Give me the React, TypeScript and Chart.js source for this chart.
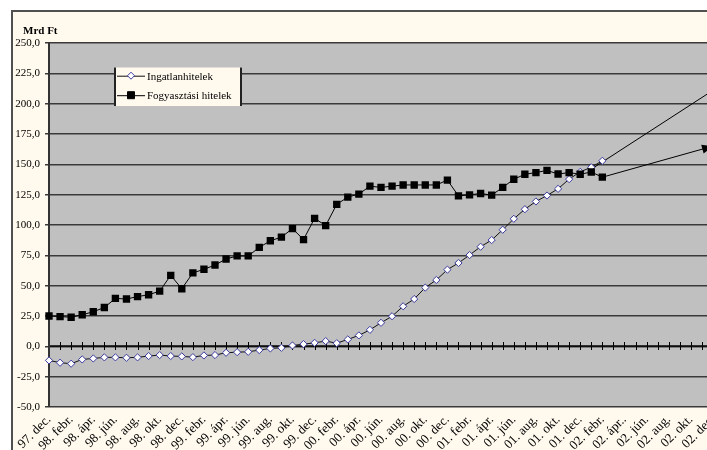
import React, { useEffect, useRef } from 'react';
import { Chart, registerables } from 'chart.js';

Chart.register(...registerables);

const categories = [
  '97. dec.',
  '98. jan.', '98. febr.', '98. márc.', '98. ápr.', '98. máj.', '98. jún.', '98. júl.', '98. aug.', '98. szept.', '98. okt.', '98. nov.', '98. dec.',
  '99. jan.', '99. febr.', '99. márc.', '99. ápr.', '99. máj.', '99. jún.', '99. júl.', '99. aug.', '99. szept.', '99. okt.', '99. nov.', '99. dec.',
  '00. jan.', '00. febr.', '00. márc.', '00. ápr.', '00. máj.', '00. jún.', '00. júl.', '00. aug.', '00. szept.', '00. okt.', '00. nov.', '00. dec.',
  '01. jan.', '01. febr.', '01. márc.', '01. ápr.', '01. máj.', '01. jún.', '01. júl.', '01. aug.', '01. szept.', '01. okt.', '01. nov.', '01. dec.',
  '02. jan.', '02. febr.', '02. márc.', '02. ápr..', '02. máj.', '02. jún.', '02. júl.', '02. aug.', '02. szept.', '02. okt.', '02. nov.', '02. dec.',
];

const ingatlanhitelek = [
  -11.6, -13.5, -14.3, -10.8, -10, -9.1, -9.1, -9.4, -9.1, -8, -7.2, -8, -8.3,
  -8.9, -7.5, -7.2, -5.3, -4.8, -4.5, -3.1, -1.7, -1.2, 0.7, 1.8, 2.9,
  4.3, 2.6, 5.7, 9, 13.6, 19.4, 24.8, 33, 39, 48.4, 54.7, 63.2,
  68.7, 75.2, 82.1, 87.6, 96.1, 105.1, 113, 119.4, 124.3, 129.8, 137.8, 143.8,
  147.6, 152.9,
];

const fogyasztasiHitelek = [
  25, 24.5, 24, 26, 28.5, 32, 39.5, 39, 41, 42.5, 45.5, 58.5, 47.5,
  60.5, 63.5, 67, 72, 74.5, 74.5, 81.5, 87, 90, 97, 88, 105.5,
  99.5, 117, 123, 125.5, 132, 131, 132, 133, 133, 133, 133, 137,
  124, 124.8, 126, 124.6, 131, 137.7, 141.8, 143.2, 145, 142, 143.2, 141.8,
  143.7, 139.4,
];

const ingatlanArrow = [
  { x: '02. jan.', y: 146 },
  { x: '02. dec.', y: 211 },
];

const fogyasztasiArrow = [
  { x: '02. febr.', y: 139.4 },
  { x: '02. dec.', y: 165 },
];

const seriesNames = ['Ingatlanhitelek', 'Fogyasztási hitelek'];
const unitLabel = 'Mrd Ft';

const W = 720;
const H = 470;
const FONT = '"Liberation Serif", "Times New Roman", serif';

const framePlugin = {
  id: 'frame',
  beforeDraw(chart: any) {
    const { ctx, chartArea: a } = chart;
    ctx.save();
    ctx.fillStyle = '#ffffff';
    ctx.fillRect(0, 0, W, H);
    ctx.fillStyle = '#FFF9EE';
    ctx.fillRect(11, 10, W, H);
    ctx.strokeStyle = '#505050';
    ctx.lineWidth = 2;
    ctx.strokeRect(12, 11, W + 20, H + 20);
    ctx.fillStyle = '#C0C0C0';
    ctx.fillRect(a.left, a.top, a.right - a.left, a.bottom - a.top);
    ctx.fillStyle = '#000';
    ctx.font = `bold 11px ${FONT}`;
    ctx.textAlign = 'left';
    ctx.textBaseline = 'middle';
    ctx.fillText(unitLabel, 23, 31);
    ctx.restore();
  },
};

const zeroAxisPlugin = {
  id: 'zeroAxis',
  beforeDatasetsDraw(chart: any) {
    const { ctx, chartArea: a, scales } = chart;
    const y0 = Math.round(scales.y.getPixelForValue(0));
    ctx.save();
    ctx.strokeStyle = '#000';
    ctx.lineWidth = 1.5;
    ctx.beginPath();
    ctx.moveTo(a.left, y0);
    ctx.lineTo(a.right, y0);
    ctx.stroke();
    ctx.lineWidth = 1;
    ctx.beginPath();
    for (let i = 0; i < categories.length; i++) {
      const x = Math.round(scales.x.getPixelForValue(i)) + 0.5;
      ctx.moveTo(x, y0 - 4);
      ctx.lineTo(x, y0 + 4);
    }
    ctx.stroke();
    ctx.strokeStyle = '#333';
    ctx.lineWidth = 2;
    ctx.beginPath();
    ctx.moveTo(a.left, a.top);
    ctx.lineTo(a.left, a.bottom);
    ctx.stroke();
    ctx.restore();
  },
};

const arrowHeadPlugin = {
  id: 'arrowHead',
  afterDatasetsDraw(chart: any) {
    const meta = chart.getDatasetMeta(3);
    if (!meta || meta.data.length < 2) return;
    const p0 = meta.data[0];
    const p1 = meta.data[meta.data.length - 1];
    const ang = Math.atan2(p1.y - p0.y, p1.x - p0.x);
    const len = 11;
    const hw = 4.5;
    const { ctx } = chart;
    ctx.save();
    ctx.fillStyle = '#000';
    ctx.translate(p1.x, p1.y);
    ctx.rotate(ang);
    ctx.beginPath();
    ctx.moveTo(0, 0);
    ctx.lineTo(-len, -hw);
    ctx.lineTo(-len, hw);
    ctx.closePath();
    ctx.fill();
    ctx.restore();
  },
};

const legendPlugin = {
  id: 'customLegend',
  afterDraw(chart: any) {
    const { ctx } = chart;
    const ds = chart.data.datasets;
    const x0 = 114;
    const y0 = 67.5;
    const w = 128;
    const h = 38.5;
    ctx.save();
    ctx.fillStyle = '#FFF9EE';
    ctx.fillRect(x0, y0, w, h);
    ctx.strokeStyle = '#222';
    ctx.lineWidth = 2;
    ctx.beginPath();
    ctx.moveTo(x0 + 1, y0);
    ctx.lineTo(x0 + 1, y0 + h);
    ctx.moveTo(x0 + w - 1, y0);
    ctx.lineTo(x0 + w - 1, y0 + h);
    ctx.stroke();
    const rows = [75.7, 95.2];
    ctx.font = `11px ${FONT}`;
    ctx.textAlign = 'left';
    ctx.textBaseline = 'middle';
    for (let i = 0; i < 2; i++) {
      const d = ds[i];
      const y = rows[i];
      ctx.strokeStyle = d.borderColor;
      ctx.lineWidth = 1;
      ctx.beginPath();
      ctx.moveTo(117, y + 0.5);
      ctx.lineTo(145, y + 0.5);
      ctx.stroke();
      const cx = 131;
      ctx.fillStyle = d.pointBackgroundColor;
      ctx.strokeStyle = d.pointBorderColor;
      ctx.beginPath();
      if (d.pointStyle === 'rectRot') {
        const r = 3.5;
        ctx.moveTo(cx, y - r);
        ctx.lineTo(cx + r, y);
        ctx.lineTo(cx, y + r);
        ctx.lineTo(cx - r, y);
        ctx.closePath();
      } else {
        ctx.rect(cx - 3.5, y - 3.5, 7, 7);
      }
      ctx.fill();
      ctx.stroke();
      ctx.fillStyle = '#000';
      ctx.fillText(d.label, 147, y + 1);
    }
    ctx.restore();
  },
};

export default function App() {
  const ref = useRef<HTMLCanvasElement | null>(null);

  useEffect(() => {
    if (!ref.current) return;
    Chart.defaults.font.family = FONT;
    const chart = new Chart(ref.current, {
      type: 'line',
      data: {
        labels: categories,
        datasets: [
          {
            label: seriesNames[0],
            data: ingatlanhitelek,
            borderColor: '#111',
            borderWidth: 1,
            pointStyle: 'rectRot',
            pointRadius: 3.6,
            pointBackgroundColor: '#ffffff',
            pointBorderColor: '#3c3ca0',
            pointBorderWidth: 1,
            tension: 0,
            order: 2,
          },
          {
            label: seriesNames[1],
            data: fogyasztasiHitelek,
            borderColor: '#000',
            borderWidth: 1,
            pointStyle: 'rect',
            pointRadius: 5.2,
            pointBackgroundColor: '#000',
            pointBorderColor: '#000',
            pointBorderWidth: 0,
            tension: 0,
            order: 1,
          },
          {
            label: 'arrow1',
            data: ingatlanArrow as any,
            borderColor: '#000',
            borderWidth: 1,
            pointRadius: 0,
            order: 3,
          },
          {
            label: 'arrow2',
            data: fogyasztasiArrow as any,
            borderColor: '#000',
            borderWidth: 1,
            pointRadius: 0,
            order: 3,
          },
        ],
      },
      options: {
        responsive: false,
        animation: false,
        devicePixelRatio: 1,
        layout: { padding: { top: 43, right: 7, left: 0, bottom: 0 } },
        plugins: {
          legend: { display: false },
          tooltip: { enabled: false },
          title: { display: false },
        },
        scales: {
          x: {
            type: 'category',
            offset: false,
            grid: { display: false, drawTicks: false },
            border: { display: false },
            ticks: {
              autoSkip: false,
              maxRotation: 45,
              minRotation: 45,
              padding: 5,
              color: '#000',
              font: { family: FONT, size: 13 },
              callback: (_v: any, i: number) => (i % 2 === 0 ? categories[i] : ''),
            },
            afterFit: (s: any) => {
              s.height = H - 407;
              s.paddingLeft = 0;
              s.paddingRight = 0;
            },
          },
          y: {
            min: -50,
            max: 250,
            ticks: {
              stepSize: 25,
              padding: 5,
              color: '#000',
              font: { family: FONT, size: 11 },
              callback: (v: any) => Number(v).toFixed(1).replace('.', ','),
            },
            grid: { color: '#3a3a3a', lineWidth: 1.5, tickLength: 4, drawTicks: true },
            border: { display: true, color: '#333', width: 2 },
            afterFit: (s: any) => {
              s.width = 49;
            },
          },
        },
      },
      plugins: [framePlugin, zeroAxisPlugin, arrowHeadPlugin, legendPlugin],
    });
    return () => chart.destroy();
  }, []);

  return (
    <div style={{ position: 'fixed', left: 0, top: 0, width: W, height: H }}>
      <canvas ref={ref} width={W} height={H} style={{ display: 'block', width: W, height: H }} />
    </div>
  );
}
